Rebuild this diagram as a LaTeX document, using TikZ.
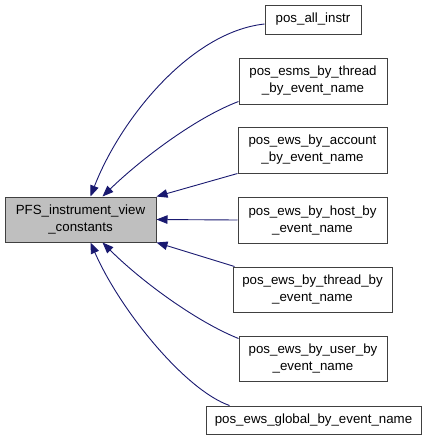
\documentclass[tikz,border=0pt]{standalone}
\usepackage{fontspec}
\setmainfont{Liberation Sans}
\usetikzlibrary{arrows.meta}
\definecolor{edgeblue}{HTML}{191970}
\definecolor{boxline}{HTML}{404040}
\definecolor{mainfill}{HTML}{BFBFBF}
\tikzset{
  box/.style={draw=boxline, line width=1pt, fill=white, align=center, inner sep=0pt,
    font=\fontsize{13.3}{17}\selectfont},
  mainbox/.style={box, fill=mainfill},
  edge/.style={draw=edgeblue, line width=0.9pt, -{Triangle[length=11pt,width=8.5pt]}},
}
\begin{document}
\begin{tikzpicture}[x=1pt,y=-1pt]
\useasboundingbox (0,0) rectangle (427,440);
\node[mainbox, minimum width=151pt, minimum height=45pt] (main) at (80.5,219.5) {PFS\_instrument\_view\\\_constants};
\node[box, minimum width=96pt, minimum height=29pt] (n1) at (313,19.5) {pos\_all\_instr};
\node[box, minimum width=148pt, minimum height=46pt] (n2) at (313,81) {pos\_esms\_by\_thread\\\_by\_event\_name};
\node[box, minimum width=149pt, minimum height=46pt] (n3) at (312.5,150) {pos\_ews\_by\_account\\\_by\_event\_name};
\node[box, minimum width=149pt, minimum height=46pt] (n4) at (312.5,220) {pos\_ews\_by\_host\_by\\\_event\_name};
\node[box, minimum width=159pt, minimum height=45pt] (n5) at (312.5,289.5) {pos\_ews\_by\_thread\_by\\\_event\_name};
\node[box, minimum width=148pt, minimum height=45pt] (n6) at (313,358.5) {pos\_ews\_by\_user\_by\\\_event\_name};
\node[box, minimum width=215pt, minimum height=28pt] (n7) at (313.5,420) {pos\_ews\_global\_by\_event\_name};

\draw[edge] ([yshift=-4.5pt]n1.west) .. controls (190,32) and (120,120) .. ([xshift=86pt]main.north west);
\draw[edge] ([yshift=3pt]n2.south west) .. controls (195,118) and (140,160) .. ([xshift=98pt]main.north west);
\draw[edge] (n3.south west) -- (main.north east);
\draw[edge] (n4.west) -- (main.east);
\draw[edge] ([xshift=2pt]n5.north west) -- (main.south east);
\draw[edge] ([yshift=-3pt]n6.north west) .. controls (195,321) and (140,280) .. ([xshift=98pt]main.south west);
\draw[edge] ([xshift=24pt]n7.north west) .. controls (185,390) and (120,310) .. ([xshift=86pt]main.south west);
\end{tikzpicture}
\end{document}
